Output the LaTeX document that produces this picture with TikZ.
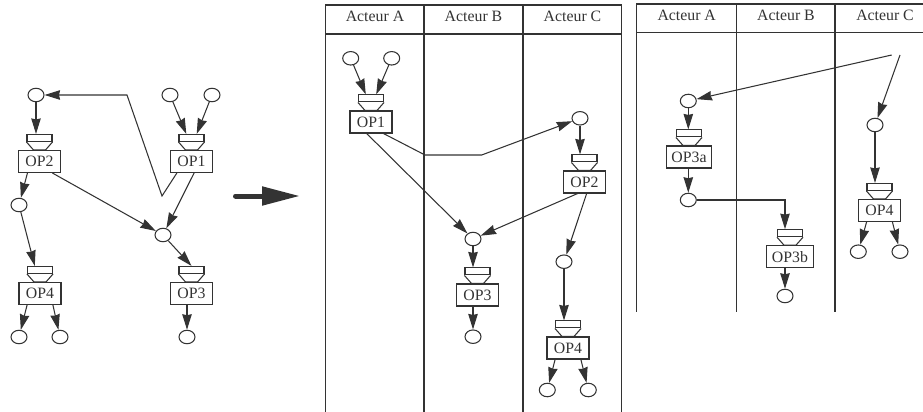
\documentclass[tikz,border=0pt]{standalone}
\usepackage{fontspec}
\setmainfont{Liberation Serif}
\usetikzlibrary{arrows.meta,positioning,calc,shapes.geometric}
\definecolor{flowInk}{HTML}{333333}
\tikzset{
  token/.style={draw=flowInk,line width=0.6pt,ellipse,minimum width=0.32cm,
                minimum height=0.27cm,inner sep=0pt},
  opbox/.style={draw=flowInk,line width=0.6pt,rectangle,minimum width=0.84cm,
                minimum height=0.44cm,inner xsep=3pt,inner ysep=1pt,text=flowInk,
                font=\fontsize{9}{10}\selectfont},
  valve/.style={draw=flowInk,line width=0.6pt,rectangle,minimum width=0.5cm,
                minimum height=0.14cm,inner sep=0pt},
  flow/.style={draw=flowInk,line width=0.6pt,
               -{Stealth[length=3.1mm,width=1.9mm,inset=0.2mm]}},
  wire/.style={draw=flowInk,line width=0.6pt},
  lane/.style={draw=flowInk,line width=0.7pt},
  lanelabel/.style={text=flowInk,font=\fontsize{9}{10}\selectfont}
}
% operation box with its input valve on top
\newcommand{\opnode}[3]{%
  \node[opbox] (#1) at (#2) {#3};
  \node[valve,above=1.6mm of #1] (#1v) {};
  \draw[wire] (#1v.south west) -- ($(#1.north)+(-6,0)$) -- ($(#1.north)+(6,0)$)
    -- (#1v.south east);}

\begin{document}
\begin{tikzpicture}[x=0.02cm,y=-0.02cm]
  \useasboundingbox (0,0) rectangle (923,412);

  % left: plain graph
  \node[token] (a1) at (36,95) {};
  \node[token] (a2) at (170,95) {};
  \node[token] (a3) at (212,95) {};
  \opnode{lop2}{39.5,161.5}{OP2}
  \opnode{lop1}{191.5,161.5}{OP1}
  \node[token] (a4) at (19,205) {};
  \node[token] (a5) at (163,235) {};
  \opnode{lop4}{40,293.5}{OP4}
  \opnode{lop3}{191.5,293.5}{OP3}
  \node[token] (a6) at (19,337) {};
  \node[token] (a7) at (60,337) {};
  \node[token] (a8) at (187,337) {};

  \draw[flow] (a1) -- (a1 |- lop2v.north);
  \draw[flow] (a2) -- ($(lop1v.north)!0.4!(lop1v.north west)$);
  \draw[flow] (a3) -- ($(lop1v.north)!0.4!(lop1v.north east)$);
  \draw[flow] ($(lop1.south west)!0.16!(lop1.south east)$) -- (162,196) -- (127,95) -- (a1);
  \draw[flow] ($(lop2.south west)!0.22!(lop2.south east)$) -- (a4);
  \draw[flow] ($(lop2.south west)!0.8!(lop2.south east)$) -- (a5);
  \draw[flow] ($(lop1.south west)!0.56!(lop1.south east)$) -- (a5);
  \draw[flow] (a5) -- (lop3v.north);
  \draw[flow] (a4) -- ($(lop4v.north)!0.4!(lop4v.north west)$);
  \draw[flow] ($(lop4.south west)!0.2!(lop4.south east)$) -- (a6);
  \draw[flow] ($(lop4.south west)!0.8!(lop4.south east)$) -- (a7);
  \draw[flow] (a8 |- lop3.south) -- (a8);

  % big arrow
  \coordinate (bigs) at (235.5,196);
  \coordinate (bige) at (300,196);
  \draw[draw=flowInk,line width=0.1cm,line cap=round,
        -{Triangle[length=0.76cm,width=0.36cm]}] (bigs) -- (bige);

  % middle: three lanes
  \draw[lane] (325.7,412) -- (325.7,5) -- (621.7,5) -- (621.7,412);
  \draw[lane] (325.7,34) -- (621.7,34);
  \foreach \x in {424,523} \draw[lane] (\x,5) -- (\x,412);
  \foreach \x/\t in {375/A,473.5/B,572.5/C}
    \node[lanelabel] (mh\t) at (\x,16) {Acteur \t};

  \node[token] (m1) at (350.7,58.3) {};
  \node[token] (m2) at (391.7,58.3) {};
  \opnode{mop1}{371,122}{OP1}
  \node[token] (m3) at (580,118.3) {};
  \opnode{mop2}{584.5,182}{OP2}
  \node[token] (m4) at (473,239) {};
  \node[token] (m5) at (564,261.7) {};
  \opnode{mop3}{477.5,295}{OP3}
  \node[token] (m6) at (473,336.7) {};
  \opnode{mop4}{568,348}{OP4}
  \node[token] (m7) at (547.3,390) {};
  \node[token] (m8) at (588.3,390) {};

  \draw[flow] (m1) -- ($(mop1v.north)!0.4!(mop1v.north west)$);
  \draw[flow] (m2) -- ($(mop1v.north)!0.4!(mop1v.north east)$);
  \draw[flow] ($(mop1.south west)!0.79!(mop1.south east)$) -- (425,155) -- (481.7,155) -- (m3);
  \draw[flow] ($(mop1.south west)!0.4!(mop1.south east)$) -- (m4);
  \draw[flow] (m3) -- (m3 |- mop2v.north);
  \draw[flow] ($(mop2.south west)!0.34!(mop2.south east)$) -- (m4);
  \draw[flow] ($(mop2.south west)!0.55!(mop2.south east)$) -- (m5);
  \draw[flow] (m4) -- (m4 |- mop3v.north);
  \draw[flow] (m6 |- mop3.south) -- (m6);
  \draw[flow] (m5) -- (m5 |- mop4v.north);
  \draw[flow] ($(mop4.south west)!0.2!(mop4.south east)$) -- (m7);
  \draw[flow] ($(mop4.south west)!0.8!(mop4.south east)$) -- (m8);

  % right: OP3 split over lanes
  \draw[lane] (923,4) -- (636.7,4) -- (636.7,312);
  \draw[lane] (636.7,32.3) -- (923,32.3);
  \foreach \x in {736.7,835} \draw[lane] (\x,4) -- (\x,312);
  \foreach \x/\t in {686.7/A,786/B,885/C}
    \node[lanelabel] (rh\t) at (\x,15) {Acteur \t};

  \coordinate (r0a) at (891.7,55);
  \coordinate (r0b) at (900,55);
  \node[token] (r1) at (688.3,101) {};
  \opnode{rop3a}{689,157}{OP3a}
  \node[token] (r2) at (688.3,200) {};
  \opnode{rop3b}{790,256.7}{OP3b}
  \node[token] (r3) at (785,296) {};
  \node[token] (r4) at (875,125) {};
  \opnode{rop4}{879.5,210.5}{OP4}
  \node[token] (r5) at (858.3,251.7) {};
  \node[token] (r6) at (900,251.7) {};

  \draw[flow] (r0a) -- (r1);
  \draw[flow] (r0b) -- (r4);
  \draw[flow] (r1) -- (r1 |- rop3av.north);
  \draw[flow] (r2 |- rop3a.south) -- (r2);
  \draw[flow] (r2) -| (r3 |- rop3bv.north);
  \draw[flow] (r3 |- rop3b.south) -- (r3);
  \draw[flow] (r4) -- (r4 |- rop4v.north);
  \draw[flow] ($(rop4.south west)!0.2!(rop4.south east)$) -- (r5);
  \draw[flow] ($(rop4.south west)!0.8!(rop4.south east)$) -- (r6);
\end{tikzpicture}
\end{document}
